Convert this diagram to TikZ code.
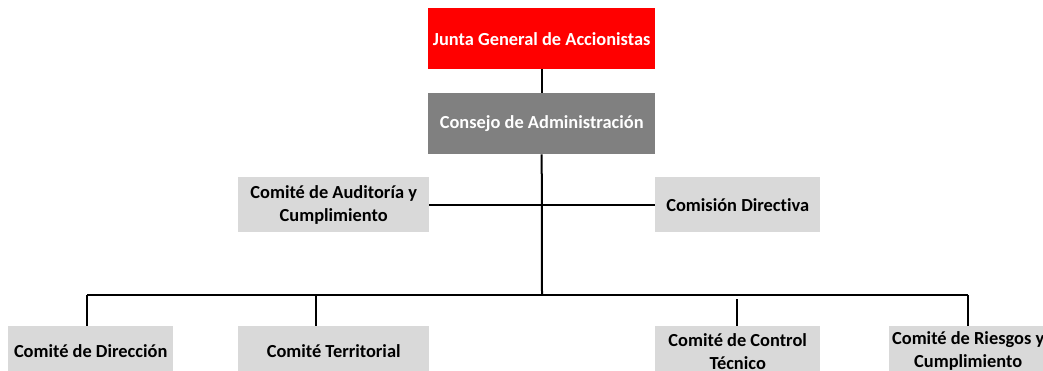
\documentclass[tikz,border=0pt]{standalone}
\usepackage{fontspec}
\setmainfont{Carlito}[Ligatures=NoCommon]
\definecolor{jred}{HTML}{FF0000}
\definecolor{cgray}{HTML}{808080}
\definecolor{lgray}{HTML}{D9D9D9}
\begin{document}
\begin{tikzpicture}[x=1pt,y=-1pt,
  box/.style={rectangle, inner sep=0pt, anchor=north west, align=center, font=\fontsize{18.4}{23}\selectfont\bfseries},
  topbox/.style={box, text=white, minimum width=227pt, minimum height=61pt},
  wide/.style={box, fill=lgray, minimum width=191pt, minimum height=55pt},
  narrow/.style={box, fill=lgray, minimum width=165pt, minimum height=55pt},
  low/.style={minimum height=50pt},
  conn/.style={draw=black, line width=2pt}]
\useasboundingbox (0,0) rectangle (1043,370);
\clip (0,0) rectangle (1043,370);
\node[topbox, fill=jred] (jga) at (428,8) {Junta General de Accionistas};
\node[topbox, fill=cgray] (ca) at (428,93) {Consejo de Administración};
\node[wide] (aud) at (238,177) {Comité de Auditoría y\\Cumplimiento};
\node[narrow] (cd) at (655,177) {Comisión Directiva};
\node[narrow, low] (dir) at (8,326) {Comité de Dirección};
\node[wide, low] (ter) at (238,326) {Comité Territorial};
\node[narrow, low] (ctl) at (655,326) {Comité de Control\\Técnico};
\node[narrow, low, minimum width=158pt] (rie) at (889,326) {Comité de Riesgos y\\Cumplimiento};
\coordinate (hub) at (542,295);
\draw[conn] (jga.south) -- (ca.north);
\draw[conn] (ca.south) -- (hub);
\draw[conn] (aud.east) -- (cd.west);
\coordinate (bl) at (87,295);
\coordinate (br) at (968,295);
\draw[conn] (bl) -- (br);
\draw[conn] (bl) -- (dir.north -| bl);
\draw[conn] (316,295) -- (ter.north -| 316,0);
\draw[conn] (737,299) -- (ctl.north -| 737,0);
\draw[conn] (br) -- (rie.north -| br);
\end{tikzpicture}
\end{document}
